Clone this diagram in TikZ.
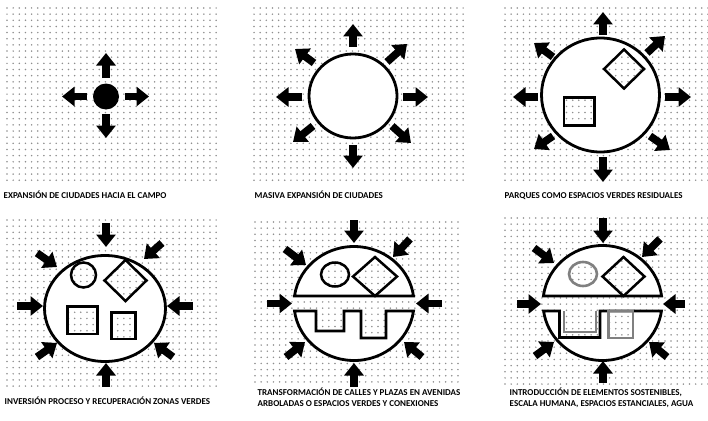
\documentclass[tikz,border=0pt]{standalone}
\usepackage{fontspec}
\setsansfont{Carlito}
\usepackage{tikz}
\usetikzlibrary{arrows.meta}
\definecolor{dotGray}{HTML}{8E8E8E}
\definecolor{ecoGray}{HTML}{808080}
\tikzset{
  every node/.style={font=\sffamily\bfseries\fontsize{9}{10.7}\selectfont},
  lbl/.style={anchor=west, inner sep=0pt, align=left, text=black},
  fat/.style={line width=7.6pt, -{Triangle[width=19pt, length=12.5pt]}},
  paper/.style={fill=white, even odd rule},
  rim/.style={draw, line width=2.8pt},
  shapeIn/.style={draw, line width=2.5pt},
  shapeGray/.style={draw=ecoGray, line width=2.6pt},
}
\newcommand{\dotgrid}[4]{%
  \fill[dotGray] \foreach \i in {0,...,#3}{\foreach \j in {0,...,#4}{({#1+\i*6.15},{#2+\j*6.15}) circle (0.85)}};
}

\begin{document}
\begin{tikzpicture}[x=1pt, y=-1pt]
  \useasboundingbox (0,0) rectangle (708,420);

  \dotgrid{7}{8}{34}{28}
  \fill (106,96.5) circle (13);
  \draw[fat] (106,78) -- (106,53);
  \draw[fat] (106,114) -- (106,138);
  \draw[fat] (87,96.5) -- (62,96.5);
  \draw[fat] (125,96.5) -- (149,96.5);
  \node[lbl] (lblCampo) at (3.5,195) {EXPANSIÓN DE CIUDADES HACIA EL CAMPO};

  \dotgrid{254}{8}{34}{28}
  \filldraw[paper, rim] (353,96) ellipse[x radius=44, y radius=42];
  \draw[fat] (353,47) -- (353,24);
  \draw[fat] (353,145) -- (353,168);
  \draw[fat] (302,97) -- (276,97);
  \draw[fat] (403,97) -- (428,97);
  \draw[fat] (387,62) -- (407,44);
  \draw[fat] (314,63) -- (295,49);
  \draw[fat] (313,126) -- (293,142);
  \draw[fat] (392,126) -- (411,143);
  \node[lbl] (lblMasiva) at (254.5,195) {MASIVA EXPANSIÓN DE CIUDADES};

  \dotgrid{505}{8}{33}{28}
  \fill[paper] (600.5,95) ellipse[x radius=59, y radius=57]
    (624,49.5) -- (644,69) -- (624,88.5) -- (604,69) -- cycle
    (564,97.5) rectangle (594.5,125.5);
  \draw[rim] (600.5,95) ellipse[x radius=59, y radius=57];
  \draw[shapeIn] (624,49.5) -- (644,69) -- (624,88.5) -- (604,69) -- cycle;
  \draw[shapeIn] (564,97.5) rectangle (594.5,125.5);
  \draw[fat] (603,35) -- (603,12);
  \draw[fat] (603,157) -- (603,182);
  \draw[fat] (538,97) -- (513,97);
  \draw[fat] (665,97) -- (691,97);
  \draw[fat] (647,53) -- (665,36);
  \draw[fat] (553,57) -- (534,43);
  \draw[fat] (553,136) -- (534,149);
  \draw[fat] (650,136) -- (670,150);
  \node[lbl] (lblParques) at (504.5,196) {PARQUES COMO ESPACIOS VERDES RESIDUALES};

  \dotgrid{7}{220}{34}{27}
  \fill[paper] (105,308.5) ellipse[x radius=60.5, y radius=53]
    (83.5,275) circle (12.5)
    (125.5,260) -- (146.5,280.5) -- (125.5,301) -- (104.5,280.5) -- cycle
    (67.5,306.5) rectangle (97.5,334)
    (111.5,312.5) rectangle (135.5,339);
  \draw[rim] (105,308.5) ellipse[x radius=60.5, y radius=53];
  \draw[shapeIn] (83.5,275) circle (12.5);
  \draw[shapeIn] (125.5,260) -- (146.5,280.5) -- (125.5,301) -- (104.5,280.5) -- cycle;
  \draw[shapeIn] (67.5,306.5) rectangle (97.5,334);
  \draw[shapeIn] (111.5,312.5) rectangle (135.5,339);
  \draw[fat] (106,223) -- (106,247);
  \draw[fat] (106,387) -- (106,363);
  \draw[fat] (17,306) -- (43,306);
  \draw[fat] (193,306) -- (167,306);
  \draw[fat] (37,253) -- (57,267);
  \draw[fat] (162,243) -- (144,259);
  \draw[fat] (37,357) -- (57,343);
  \draw[fat] (173,357) -- (154,343);
  \node[lbl] (lblInversion) at (4.5,400.5) {INVERSIÓN PROCESO Y RECUPERACIÓN ZONAS VERDES};

  \dotgrid{255}{222}{33}{26}
  \fill[paper] (294.52,296) arc[start angle=187.56, end angle=352.44, x radius=60, y radius=57] -- cycle
    (335,274.5) ellipse[x radius=14, y radius=12]
    (375,257) -- (397,276.5) -- (375,296) -- (353,276.5) -- cycle;
  \draw[rim] (294.52,296) arc[start angle=187.56, end angle=352.44, x radius=60, y radius=57] -- cycle;
  \draw[shapeIn] (335,274.5) ellipse[x radius=14, y radius=12];
  \draw[shapeIn] (375,257) -- (397,276.5) -- (375,296) -- (353,276.5) -- cycle;
  \filldraw[paper, rim] (413.48,311) arc[start angle=7.56, end angle=172.44, x radius=60, y radius=57]
    -- (316,311) -- (316,331) -- (344,331) -- (344,311) -- (361,311) -- (361,338)
    -- (386,338) -- (386,311) -- cycle;
  \draw[fat] (354,220) -- (354,243);
  \draw[fat] (354,387) -- (354,363);
  \draw[fat] (267,303.5) -- (292,303.5);
  \draw[fat] (442,303.5) -- (416,303.5);
  \draw[fat] (285,249) -- (306,265);
  \draw[fat] (410,239) -- (393,257);
  \draw[fat] (286,357) -- (305,342);
  \draw[fat] (422,357) -- (404,342);
  \node[lbl] (lblCalles) at (257.5,397.5)
    {TRANSFORMACIÓN DE CALLES Y PLAZAS EN AVENIDAS\\ARBOLADAS O ESPACIOS VERDES Y CONEXIONES};

  \dotgrid{505}{218}{33}{27}
  \fill[paper] (543.44,296) arc[start angle=186.99, end angle=353.01, x radius=59.5, y radius=57.5] -- cycle
    (583,274) ellipse[x radius=14, y radius=12]
    (623.5,257) -- (644.5,276.5) -- (623.5,296) -- (602.5,276.5) -- cycle;
  \draw[rim] (543.44,296) arc[start angle=186.99, end angle=353.01, x radius=59.5, y radius=57.5] -- cycle;
  \draw[shapeGray] (583,274) ellipse[x radius=14, y radius=12];
  \draw[shapeIn] (623.5,257) -- (644.5,276.5) -- (623.5,296) -- (602.5,276.5) -- cycle;
  \fill[paper] (661.42,311) arc[start angle=8, end angle=172, x radius=59.5, y radius=57.5]
    -- (559.5,311) -- (559.5,337.5) -- (600,337.5) -- (600,311) -- cycle
    (608.5,311) rectangle (633,338);
  \draw[rim] (661.42,311) arc[start angle=8, end angle=172, x radius=59.5, y radius=57.5]
    -- (559.5,311) -- (559.5,337.5) -- (600,337.5) -- (600,311) -- cycle;
  \draw[shapeGray] (608.5,311) rectangle (633,338);
  \draw[shapeGray] (564,311) -- (564,332) -- (596,332) -- (596,311);
  \draw[fat] (603,218) -- (603,243);
  \draw[fat] (603,383) -- (603,361);
  \draw[fat] (517,304) -- (541,304);
  \draw[fat] (685,304) -- (663,304);
  \draw[fat] (534,248) -- (554,263);
  \draw[fat] (660,239) -- (642,257);
  \draw[fat] (535,356) -- (554,342);
  \draw[fat] (667,357) -- (649,342);
  \node[lbl] (lblSost) at (509.5,398)
    {INTRODUCCIÓN DE ELEMENTOS SOSTENIBLES,\\ESCALA HUMANA, ESPACIOS ESTANCIALES, AGUA};
\end{tikzpicture}
\end{document}
